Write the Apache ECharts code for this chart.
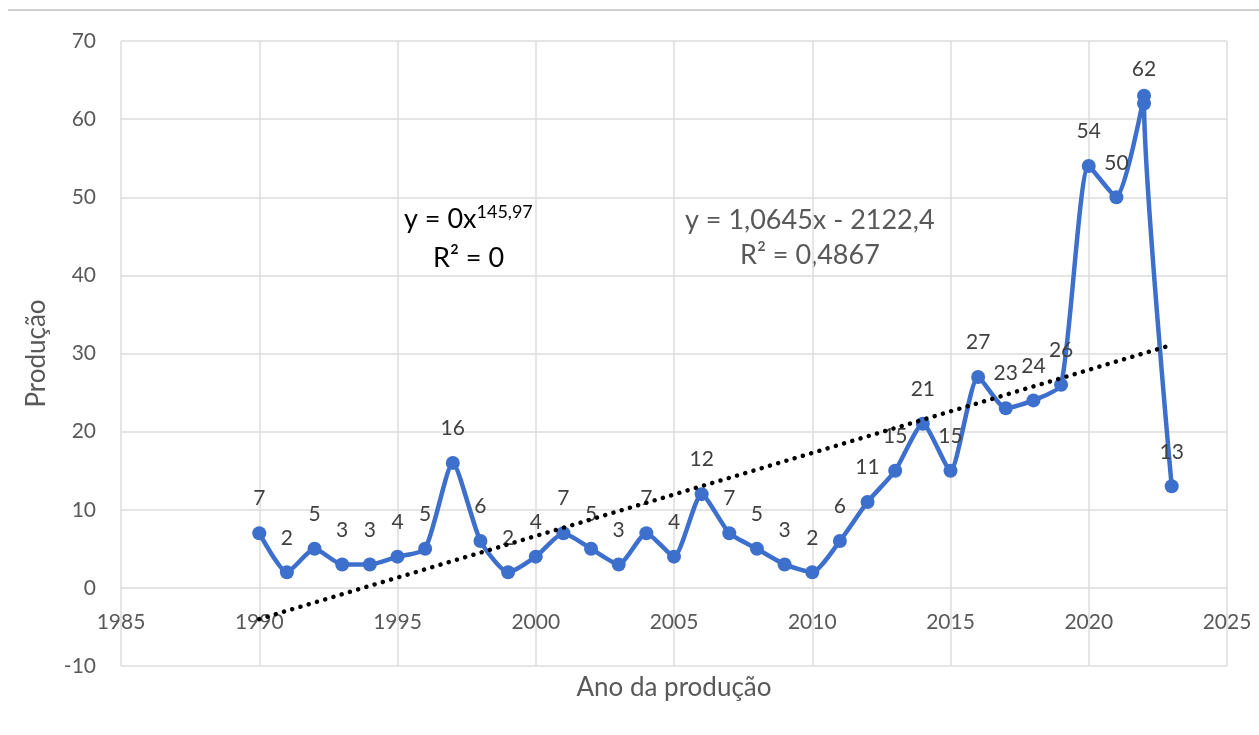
<!DOCTYPE html>
<html>
<head>
<meta charset="utf-8">
<script src="https://cdn.jsdelivr.net/npm/echarts@6/dist/echarts.min.js"></script>
<style>
  html, body { margin: 0; padding: 0; background: #fff; }
  #main { width: 1259px; height: 735px; }
</style>
</head>
<body>
<div id="main"></div>
<script>
// anos e produção
const years = [1990, 1991, 1992, 1993, 1994, 1995, 1996, 1997, 1998, 1999,
  2000, 2001, 2002, 2003, 2004, 2005, 2006, 2007, 2008, 2009,
  2010, 2011, 2012, 2013, 2014, 2015, 2016, 2017, 2018, 2019,
  2020, 2021, 2022, 2022, 2023]
const producao = [7, 2, 5, 3, 3, 4, 5, 16, 6, 2,
  4, 7, 5, 3, 7, 4, 12, 7, 5, 3,
  2, 6, 11, 15, 21, 15, 27, 23, 24, 26,
  54, 50, 63, 62, 13]
// ponto sem rótulo (sobreposto)
const hiddenLabelIdx = [32]

// linha de tendência linear (extremos)
const trendX = [1990, 2023]
const trendY = [-4.0, 31.1]

const textColor = '#595959'
const fontFamily = 'Lato, "Liberation Sans", sans-serif'

const chart = echarts.init(document.getElementById('main'))

const seriesData = years.map((y, i) => ({
  value: [y, producao[i]],
  label: { show: !hiddenLabelIdx.includes(i) }
}))

const option = {
  animation: false,
  backgroundColor: '#fff',
  textStyle: { fontFamily: fontFamily },
  grid: { left: 121, right: 32, top: 41, bottom: 69 },
  xAxis: {
    type: 'value',
    min: 1985,
    max: 2025,
    interval: 5,
    // eixo cruza o y no zero (-10 fica 78px abaixo)
    offset: -78,
    name: 'Ano da produção',
    nameLocation: 'middle',
    nameGap: 87,
    nameTextStyle: { color: textColor, fontSize: 26, fontFamily: fontFamily },
    axisLine: { show: false },
    axisTick: { show: false },
    axisLabel: {
      color: textColor,
      fontSize: 21,
      margin: 24,
      fontFamily: fontFamily,
      formatter: v => String(v)
    },
    splitLine: { show: true, lineStyle: { color: '#dcdcdc', width: 1.5 } }
  },
  yAxis: {
    type: 'value',
    min: -10,
    max: 70,
    interval: 10,
    name: 'Produção',
    nameLocation: 'middle',
    nameGap: 71,
    nameTextStyle: { color: textColor, fontSize: 26, fontFamily: fontFamily },
    axisLine: { show: false },
    axisTick: { show: false },
    axisLabel: { color: textColor, fontSize: 21, margin: 25, fontFamily: fontFamily },
    splitLine: { show: true, lineStyle: { color: '#dcdcdc', width: 1.5 } }
  },
  series: [
    {
      name: 'Tendência',
      type: 'line',
      data: trendX.map((x, i) => [x, trendY[i]]),
      symbol: 'none',
      z: 3,
      lineStyle: { color: '#000', width: 4.5, type: [0.1, 8.5], cap: 'round' }
    },
    {
      name: 'Produção',
      type: 'line',
      data: seriesData,
      smooth: 0.2,
      symbol: 'circle',
      symbolSize: 14,
      z: 2,
      lineStyle: { color: '#3d6fcc', width: 4.5 },
      itemStyle: { color: '#3d6fcc' },
      label: {
        show: true,
        position: 'top',
        distance: 17,
        color: '#404040',
        fontSize: 21,
        fontFamily: fontFamily
      }
    }
  ],
  graphic: [
    {
      type: 'line',
      shape: { x1: 8, y1: 10, x2: 1259, y2: 10 },
      style: { stroke: '#cfcfcf', lineWidth: 2 }
    },
    {
      type: 'text',
      left: 404,
      top: 203,
      style: {
        text: '{b|y = 0x}{s|145,97}',
        rich: {
          b: { fontSize: 27, fill: '#000', fontFamily: fontFamily, verticalAlign: 'bottom' },
          s: { fontSize: 18, fill: '#000', fontFamily: fontFamily, verticalAlign: 'top', padding: [0, 0, 12, 0] }
        }
      }
    },
    {
      type: 'text',
      left: 433,
      top: 245,
      style: {
        text: 'R² = 0',
        fontSize: 27,
        fill: '#000',
        fontFamily: fontFamily
      }
    },
    {
      type: 'text',
      left: 685,
      top: 207,
      style: {
        text: 'y = 1,0645x - 2122,4',
        fontSize: 27,
        fill: textColor,
        fontFamily: fontFamily
      }
    },
    {
      type: 'text',
      left: 740,
      top: 242,
      style: {
        text: 'R² = 0,4867',
        fontSize: 27,
        fill: textColor,
        fontFamily: fontFamily
      }
    }
  ]
}

chart.setOption(option)
window.addEventListener('resize', () => chart.resize())
</script>
</body>
</html>
